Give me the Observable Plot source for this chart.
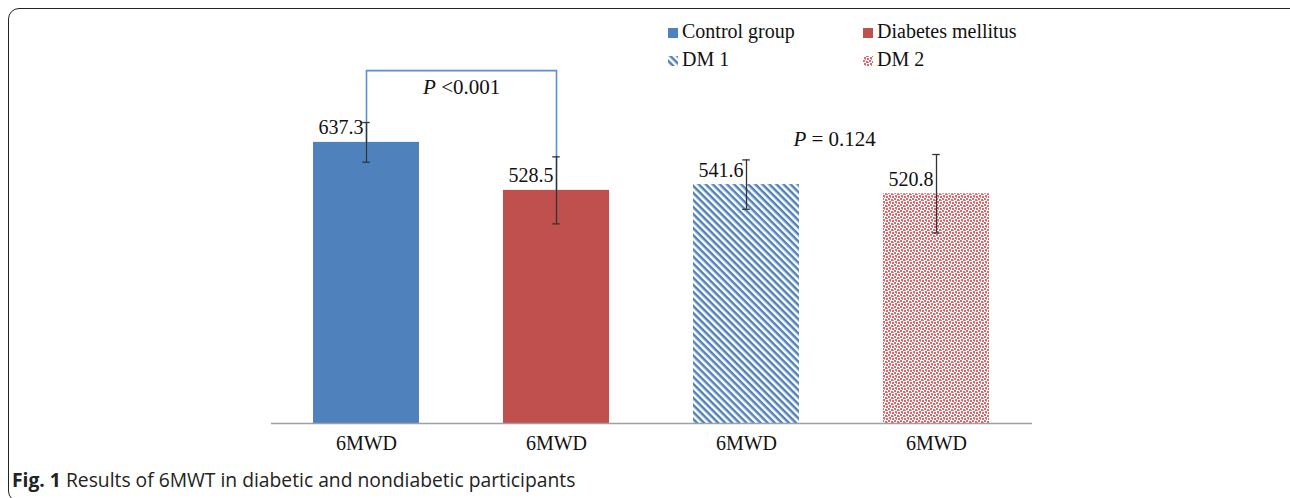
<!DOCTYPE html>
<html>
<head>
<meta charset="utf-8">
<script src="https://cdn.jsdelivr.net/npm/d3@7"></script>
<script src="https://cdn.jsdelivr.net/npm/@observablehq/plot@0.6"></script>
<style>
  html, body { margin: 0; padding: 0; background: #fff; overflow: hidden; }
  #wrap { position: relative; width: 1290px; height: 498px; overflow: hidden; background: #fff; }
  #frame { position: absolute; left: 8px; top: 8px; width: 1300px; height: 494px; border: 1.6px solid #222; border-radius: 11px; box-sizing: border-box; }
  #chart { position: absolute; left: 0; top: 0; }
  #legend { position: absolute; left: 0; top: 0; }
  #caption { position: absolute; left: 12px; top: 466px; font-family: "Open Sans", sans-serif; font-size: 19.3px; color: #222; white-space: nowrap; }
  #caption b { font-weight: 700; }
</style>
</head>
<body>
<svg width="0" height="0" style="position:absolute">
  <defs>
    <pattern id="pat-dm1" patternUnits="userSpaceOnUse" width="10" height="5" patternTransform="rotate(45)">
      <rect x="0" y="0" width="10" height="5" fill="#fff"/>
      <rect x="0" y="0" width="10" height="2.5" fill="#4f81bd"/>
    </pattern>
    <pattern id="pat-dm2" patternUnits="userSpaceOnUse" width="6" height="6">
      <rect x="0" y="0" width="6" height="6" fill="#fff"/>
      <rect x="0" y="0" width="2" height="2" fill="#d9696a"/>
      <rect x="3" y="1" width="2" height="2" fill="#d9696a"/>
      <rect x="1" y="3" width="2" height="2" fill="#d9696a"/>
      <rect x="4" y="4" width="2" height="2" fill="#d9696a"/>
      <rect x="5" y="2" width="1" height="1" fill="#e08a8a"/>
      <rect x="2" y="5" width="1" height="1" fill="#e08a8a"/>
    </pattern>
  </defs>
</svg>
<div id="wrap">
  <div id="frame"></div>
  <div id="chart"></div>
  <div id="legend"></div>
  <div id="caption"><b>Fig. 1</b> Results of 6MWT in diabetic and nondiabetic participants</div>
</div>
<script>
// ---- data ----
const groups = ["Control group", "Diabetes mellitus", "DM 1", "DM 2"];
const means = [637.3, 528.5, 541.6, 520.8];
const sds = [45, 76, 56, 89];
const tickLabels = ["6MWD", "6MWD", "6MWD", "6MWD"];
const fills = ["#4f81bd", "#c0504d", "url(#pat-dm1)", "url(#pat-dm2)"];
const legendIcons = ["#4f81bd", "#c0504d", "url(#pat-dm1)", "url(#pat-dm2)"];
// significance annotations
const pTexts = ["<0.001", "= 0.124"];
const pAfter = ["Control group", "DM 1"];
const pY = [748, 630];
const bracketTop = 800;

const data = groups.map((g, i) => ({group: g, mean: means[i], sd: sds[i], fill: fills[i]}));
const pData = pTexts.map((t, i) => ({group: pAfter[i], y: pY[i], text: "P " + t}));
const bracket = [
  {x: groups[0], y: means[0] - sds[0]},
  {x: groups[0], y: bracketTop},
  {x: groups[1], y: bracketTop},
  {x: groups[1], y: means[1]}
];

const W = 1290, H = 460, mL = 271, mR = 258;
const step = (W - mL - mR) / groups.length;
const padInner = 0.44;
const bw = step * (1 - padInner);
const capW = 8;
const capInset = (bw - capW) / 2;

const serif = "'Liberation Serif', 'Times New Roman', serif";

const plot = Plot.plot({
  width: W,
  height: H,
  marginLeft: mL,
  marginRight: mR,
  marginTop: 26,
  marginBottom: 37,
  style: {fontFamily: serif, fontSize: "20px", color: "#111", background: "transparent"},
  x: {domain: groups, paddingInner: padInner, paddingOuter: padInner / 2, label: null},
  y: {domain: [0, 900], axis: null},
  marks: [
    ...data.map(d => Plot.barY([d], {x: "group", y: "mean", fill: d.fill})),
    Plot.ruleY([0], {stroke: "#a0a0a0", strokeWidth: 1.5}),
    Plot.axisX({tickSize: 0, tickPadding: 12, fontSize: 20, tickFormat: (d) => tickLabels[groups.indexOf(d)]}),
    Plot.line(bracket, {x: "x", y: "y", stroke: "#5b8ed8", strokeWidth: 1.6}),
    Plot.ruleX(data, {x: "group", y1: d => d.mean - d.sd, y2: d => d.mean + d.sd, stroke: "#333", strokeWidth: 1.3}),
    Plot.tickY(data, {x: "group", y: d => d.mean - d.sd, stroke: "#333", strokeWidth: 1.3, insetLeft: capInset, insetRight: capInset}),
    Plot.tickY(data, {x: "group", y: d => d.mean + d.sd, stroke: "#333", strokeWidth: 1.3, insetLeft: capInset, insetRight: capInset}),
    Plot.text(data, {x: "group", y: "mean", text: d => d.mean.toFixed(1), textAnchor: "end", lineAnchor: "bottom", dx: -3, dy: -8, fontSize: 20, fill: "#111"}),
    Plot.text(pData.slice(0, 1), {x: "group", y: "y", text: "text", dx: step / 2, lineAnchor: "bottom", fontSize: 21, fill: "#111"}),
    Plot.text(pData.slice(1), {x: "group", y: "y", text: "text", dx: step / 2 - 7, lineAnchor: "bottom", fontSize: 21, fill: "#111"})
  ]
});
document.getElementById("chart").appendChild(plot);

// italic P in the significance labels
d3.select(plot).selectAll("text").each(function() {
  const t = d3.select(this);
  if (this.querySelector("tspan")) return;
  const s = t.text();
  if (!s.startsWith("P ")) return;
  t.text(null);
  t.append("tspan").attr("font-style", "italic").text("P");
  t.append("tspan").text(s.slice(1));
});

// legend overlay
const leg = d3.select("#legend").append("svg").attr("width", W).attr("height", 80);
const legX = [668, 863, 668, 863];
const legY = [38, 38, 66, 66];
groups.forEach((g, i) => {
  const gg = leg.append("g").attr("transform", `translate(${legX[i]},${legY[i]})`);
  gg.append("rect").attr("x", 0).attr("y", -10).attr("width", 10).attr("height", 10).attr("fill", legendIcons[i]);
  gg.append("text").attr("x", 14).attr("y", 0).attr("font-family", serif).attr("font-size", 20).attr("fill", "#111").text(g);
});
</script>
</body>
</html>
